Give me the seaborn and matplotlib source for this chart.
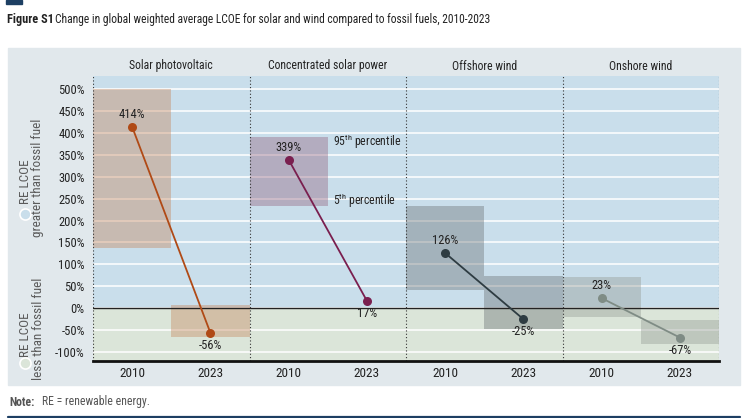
import matplotlib
matplotlib.use("Agg")
import matplotlib.pyplot as plt
from matplotlib import font_manager as fm
from matplotlib.patches import Rectangle
from matplotlib.lines import Line2D
import seaborn as sns
import pandas as pd

# ---------------- data ----------------
technologies = ["Solar photovoltaic", "Concentrated solar power", "Offshore wind", "Onshore wind"]
years = ["2010", "2023"]
value_2010 = [414, 339, 126, 23]
value_2023 = [-56, 17, -25, -67]
p95_2010 = [500, 391, 234, 71]
p5_2010 = [138, 234, 42, -20]
p95_2023 = [7, None, 74, -27]
p5_2023 = [-65, None, -47, -81]
yticks = list(range(-100, 501, 50))

line_colors = ["#b04a16", "#7a1f4f", "#2e3c42", "#7f8c85"]
box_colors = ["#c6865c", "#94617f", "#6a7073", "#949a93"]

rows = []
for i, t in enumerate(technologies):
    rows.append(dict(tech=t, year="2010", pos=2 * i, value=value_2010[i], p95=p95_2010[i], p5=p5_2010[i]))
    rows.append(dict(tech=t, year="2023", pos=2 * i + 1, value=value_2023[i], p95=p95_2023[i], p5=p5_2023[i]))
df = pd.DataFrame(rows)

# ---------------- style ----------------
sns.set_theme(style="white")
available = {f.name for f in fm.fontManager.ttflist}
prefs = ["Roboto Condensed", "Barlow Semi Condensed", "Fira Sans Condensed", "PT Sans Narrow",
         "Archivo Narrow", "Liberation Sans Narrow", "Liberation Sans"]
MAIN = next(p for p in prefs if p in available)
plt.rcParams["font.family"] = [MAIN, "DejaVu Sans"]
plt.rcParams["mathtext.fontset"] = "custom"
plt.rcParams["mathtext.rm"] = MAIN
plt.rcParams["mathtext.it"] = MAIN
TXT = "#222222"

W, H = 750, 418
def fx(px): return px / W
def fy(py): return 1 - py / H

fig = plt.figure(figsize=(7.5, 4.18), dpi=100)
fig.patch.set_facecolor("white")

# outer grey panel
fig.patches.append(Rectangle((fx(8), fy(385)), fx(740) - fx(8), fy(48) - fy(385),
                             transform=fig.transFigure, color="#e1e8ec", zorder=-10))
# top accent bar and bottom rule
fig.patches.append(Rectangle((fx(6), fy(3.5)), fx(22) - fx(6), 3.5 / H,
                             transform=fig.transFigure, color="#1d3f63", zorder=-10))
fig.add_artist(Line2D([fx(8), fx(740)], [fy(416.5), fy(416.5)], transform=fig.transFigure,
                      color="#1d3f63", lw=1.6))

fig.text(fx(7), fy(20), "Figure S1", fontsize=8.8, fontweight="bold", color=TXT, va="center", ha="left")
fig.text(fx(55), fy(20), "Change in global weighted average LCOE for solar and wind compared to fossil fuels, 2010-2023",
         fontsize=8.3, color=TXT, va="center", ha="left")
fig.text(fx(9), fy(402), "Note:", fontsize=8.5, fontweight="bold", color="#555555", va="center", ha="left")
fig.text(fx(42), fy(402), "RE = renewable energy.", fontsize=8.5, color="#555555", va="center", ha="left")

ax = fig.add_axes([fx(93), fy(361), fx(719) - fx(93), fy(76) - fy(361)])
ax.set_xlim(-0.5, 7.5)
ax.set_ylim(-120.5, 530)
ax.set_facecolor("none")

ax.axhspan(0, 530, color="#c9deeb", zorder=0, lw=0)
ax.axhspan(-120.5, 0, color="#dbe5d9", zorder=0, lw=0)
for v in yticks:
    ax.axhline(v, color="white", lw=1.1, zorder=0.5)

# percentile boxes
for _, r in df.iterrows():
    if pd.notna(r.p95):
        ci = technologies.index(r.tech)
        ax.bar(r.pos, r.p95 - r.p5, bottom=r.p5, width=1.0, color=box_colors[ci],
               alpha=0.4, lw=0, zorder=2)

ax.axhline(0, color="#222222", lw=1.0, zorder=3)
for xv in [-0.5, 1.5, 3.5, 5.5, 7.5]:
    ax.axvline(xv, color="#333333", lw=0.8, ls=(0, (1, 2)), zorder=3)

sns.lineplot(data=df, x="pos", y="value", hue="tech", hue_order=technologies,
             palette=line_colors, marker="o", markersize=6.5, markeredgewidth=0,
             linewidth=1.3, legend=False, ax=ax, zorder=4, units="tech", estimator=None)

for _, r in df.iterrows():
    above = r.year == "2010"
    ax.annotate(f"{r.value:g}%", (r.pos, r.value), xytext=(0, 9 if above else -9),
                textcoords="offset points", ha="center", va="center",
                fontsize=9, color=TXT, zorder=5)

# percentile labels for CSP
ci = 1
ax.annotate(r"95$^{\mathrm{th}}$ percentile", (2.5, p95_2010[ci]), xytext=(4, -3),
            textcoords="offset points", ha="left", va="center", fontsize=8.5, color=TXT)
ax.annotate(r"5$^{\mathrm{th}}$ percentile", (2.5, p5_2010[ci]), xytext=(4, 3.5),
            textcoords="offset points", ha="left", va="center", fontsize=8.5, color=TXT)

# axes formatting
ax.set_yticks(yticks)
ax.set_yticklabels([f"{v}%" for v in yticks])
ax.set_xticks(list(range(8)))
ax.set_xticklabels(years * 4)
ax.set_xticks([-0.5 + i for i in range(9)], minor=True)
ax.tick_params(axis="y", length=0, labelsize=9, labelcolor=TXT, pad=6)
ax.tick_params(axis="x", which="major", length=0, labelsize=9.5, labelcolor=TXT, pad=4)
ax.tick_params(axis="x", which="minor", length=4, width=1.5, color="#111111", direction="out")
ax.set_xlabel("")
ax.set_ylabel("")
for s in ["left", "right", "top"]:
    ax.spines[s].set_visible(False)
ax.spines["bottom"].set_color("#111111")
ax.spines["bottom"].set_linewidth(2)
ax.spines["bottom"].set_zorder(6)

# category headers
for i, t in enumerate(technologies):
    xc = 93 + (i * 2 + 1) * (719 - 93) / 8
    fig.text(fx(xc), fy(66), t, fontsize=8.5, color=TXT, ha="center", va="center")

# left legend
LEG = "#5a5a5a"
fig.text(fx(25.5), fy(182), "RE LCOE", rotation=90, fontsize=9.5, color=LEG, ha="center", va="center")
fig.text(fx(38), fy(178), "greater than fossil fuel", rotation=90, fontsize=9.5, color=LEG,
         ha="center", va="center")
fig.text(fx(25.5), fy(335), "RE LCOE", rotation=90, fontsize=9.5, color=LEG, ha="center", va="center")
fig.text(fx(38), fy(329), "less than fossil fuel", rotation=90, fontsize=9.5, color=LEG,
         ha="center", va="center")
fig.add_artist(Line2D([fx(25)], [fy(214)], transform=fig.transFigure, marker="o", markersize=8,
                      markerfacecolor="#c9deeb", markeredgecolor="white", markeredgewidth=1.2, lw=0))
fig.add_artist(Line2D([fx(25)], [fy(363)], transform=fig.transFigure, marker="o", markersize=8,
                      markerfacecolor="#dbe5d9", markeredgecolor="white", markeredgewidth=1.2, lw=0))

fig.savefig("out.png", dpi=100)
